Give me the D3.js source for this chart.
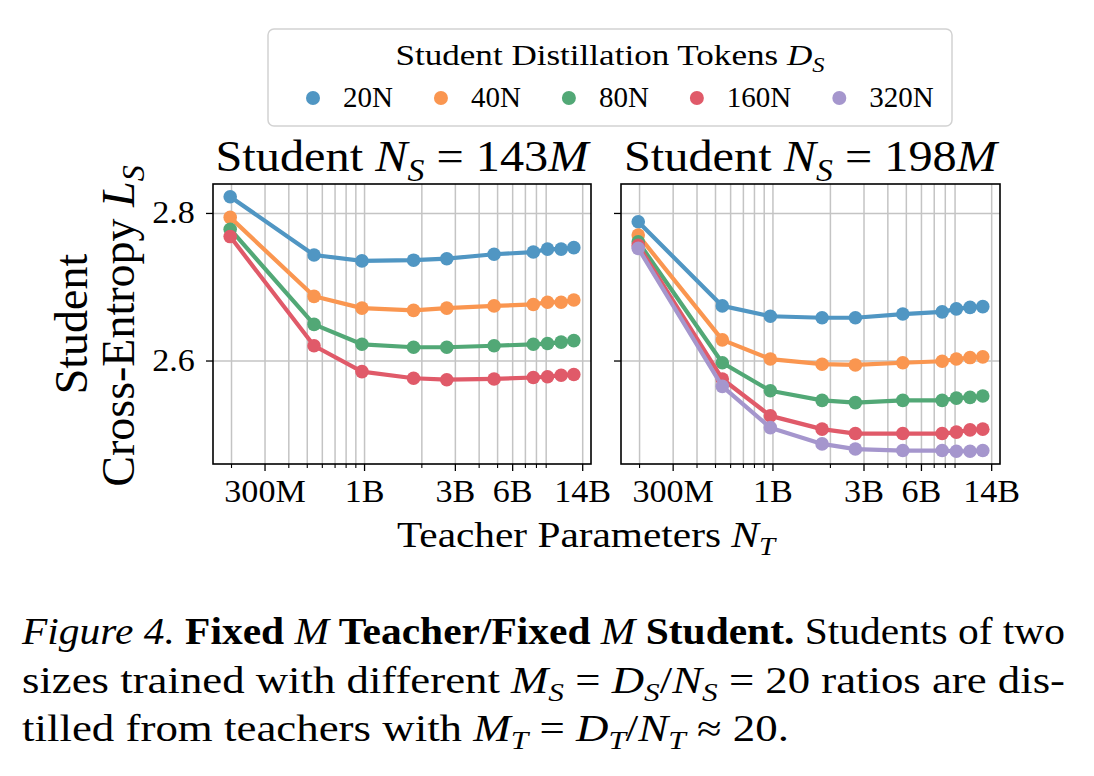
<!DOCTYPE html>
<html>
<head>
<meta charset="utf-8">
<script src="https://cdn.jsdelivr.net/npm/d3@7"></script>
<style>
  html, body { margin: 0; padding: 0; background: #fff; }
  svg { display: block; }
  text { font-family: "Liberation Serif", "Times New Roman", Times, serif; fill: #000; }
</style>
</head>
<body>
<svg id="chart" width="1094" height="776"></svg>
<script>
// ---------------- DATA ----------------
const teacherParams = [198e6, 546e6, 975e6, 1.82e9, 2.72e9, 4.82e9, 7.75e9, 9.2e9, 10.85e9, 12.65e9];
const seriesLabels = ["20N", "40N", "80N", "160N", "320N"];
const seriesColors = ["#5096c3", "#fa9650", "#52a876", "#e05a69", "#a596cd"];

// Student N_S = 143M
const s143_20N  = [2.822, 2.743, 2.735, 2.736, 2.738, 2.744, 2.747, 2.751, 2.751, 2.753];
const s143_40N  = [2.794, 2.687, 2.671, 2.668, 2.671, 2.674, 2.676, 2.679, 2.679, 2.682];
const s143_80N  = [2.778, 2.649, 2.622, 2.618, 2.618, 2.620, 2.622, 2.623, 2.625, 2.627];
const s143_160N = [2.768, 2.620, 2.585, 2.576, 2.574, 2.575, 2.577, 2.578, 2.580, 2.581];

// Student N_S = 198M
const s198_20N  = [2.788, 2.674, 2.660, 2.658, 2.658, 2.663, 2.666, 2.670, 2.672, 2.673];
const s198_40N  = [2.770, 2.628, 2.602, 2.595, 2.594, 2.597, 2.599, 2.602, 2.604, 2.605];
const s198_80N  = [2.761, 2.597, 2.559, 2.546, 2.543, 2.546, 2.546, 2.549, 2.550, 2.552];
const s198_160N = [2.756, 2.575, 2.525, 2.507, 2.501, 2.501, 2.501, 2.503, 2.506, 2.507];
const s198_320N = [2.752, 2.565, 2.509, 2.487, 2.480, 2.478, 2.478, 2.477, 2.477, 2.478];

const xMajorTicks = [3e8, 1e9, 3e9, 6e9, 1.4e10];
const xMajorLabels = ["300M", "1B", "3B", "6B", "14B"];
const xMinorTicks = [2e8, 4e8, 5e8, 6e8, 7e8, 8e8, 9e8, 2e9, 4e9, 5e9, 7e9, 8e9, 9e9];
const yTicks = [2.6, 2.8];

const panels = [
  { sizeLabel: "143", series: [s143_20N, s143_40N, s143_80N, s143_160N] },
  { sizeLabel: "198", series: [s198_20N, s198_40N, s198_80N, s198_160N, s198_320N] }
];

// ---------------- LAYOUT ----------------
const FF = '"Liberation Serif", "Times New Roman", Times, serif';
const svg = d3.select("#chart");
const plotTop = 184, plotBottom = 464;
const panelX = [[213, 591], [621, 1000]];
const SX = 1.1; // horizontal glyph stretch

function rich(g, x, y, parts, opts) {
  const fs = opts.size;
  const t = g.append("text").attr("x", x).attr("y", y)
    .attr("font-size", fs).attr("font-family", FF)
    .attr("text-anchor", opts.anchor || "start");
  if (opts.transform) t.attr("transform", opts.transform);
  let shifted = 0;
  parts.forEach(p => {
    const ts = t.append("tspan").text(p.t);
    if (p.i) ts.attr("font-style", "italic");
    if (p.b) ts.attr("font-weight", "bold");
    let dy = 0;
    if (p.sub) {
      ts.attr("font-size", fs * 0.7);
      const target = fs * 0.22;
      dy = target - shifted; shifted = target;
    } else if (shifted) {
      dy = -shifted; shifted = 0;
    }
    if (dy) ts.attr("dy", dy);
  });
  if (opts.len) t.attr("textLength", opts.len).attr("lengthAdjust", "spacingAndGlyphs");
  return t;
}

const allVals = panels.flatMap(p => p.series.flat());
const yMin = d3.min(allVals), yMax = d3.max(allVals);
const yPad = (yMax - yMin) * 0.05;
const y = d3.scaleLinear().domain([yMin - yPad, yMax + yPad]).range([plotBottom, plotTop]);

const lx0 = Math.log10(d3.min(teacherParams)), lx1 = Math.log10(d3.max(teacherParams));
const xPad = (lx1 - lx0) * 0.05;
const xDomain = [Math.pow(10, lx0 - xPad), Math.pow(10, lx1 + xPad)];

panels.forEach((panel, pi) => {
  const [x0, x1] = panelX[pi];
  const x = d3.scaleLog().domain(xDomain).range([x0, x1]);
  const g = svg.append("g");

  const gridX = g.append("g").attr("transform", `translate(0,${plotBottom})`)
    .call(d3.axisBottom(x).tickValues(xMajorTicks.concat(xMinorTicks)).tickSize(-(plotBottom - plotTop)).tickFormat(""));
  gridX.select(".domain").remove();
  gridX.selectAll("line").attr("stroke", "#c4c4c4").attr("stroke-width", 1.5);
  const gridY = g.append("g").attr("transform", `translate(${x0},0)`)
    .call(d3.axisLeft(y).tickValues(yTicks).tickSize(-(x1 - x0)).tickFormat(""));
  gridY.select(".domain").remove();
  gridY.selectAll("line").attr("stroke", "#c4c4c4").attr("stroke-width", 1.5);

  const line = d3.line().x((d, i) => x(teacherParams[i])).y(d => y(d));
  panel.series.forEach((vals, si) => {
    const sg = g.append("g");
    sg.append("path").datum(vals).attr("d", line)
      .attr("fill", "none").attr("stroke", seriesColors[si]).attr("stroke-width", 4.2)
      .attr("stroke-linejoin", "round");
    sg.selectAll("circle").data(vals).join("circle")
      .attr("cx", (d, i) => x(teacherParams[i])).attr("cy", d => y(d))
      .attr("r", 6.8).attr("fill", seriesColors[si]);
  });

  g.append("rect").attr("x", x0).attr("y", plotTop).attr("width", x1 - x0).attr("height", plotBottom - plotTop)
    .attr("fill", "none").attr("stroke", "#000").attr("stroke-width", 1.6);

  const minAx = g.append("g").attr("transform", `translate(0,${plotBottom})`)
    .call(d3.axisBottom(x).tickValues(xMinorTicks).tickSize(4).tickFormat(""));
  minAx.select(".domain").remove();
  minAx.selectAll("line").attr("stroke", "#000").attr("stroke-width", 1.1);

  const majAx = g.append("g").attr("transform", `translate(0,${plotBottom})`)
    .call(d3.axisBottom(x).tickValues(xMajorTicks).tickSize(7).tickPadding(8.5)
      .tickFormat((d, i) => xMajorLabels[i]));
  majAx.attr("font-family", FF);
  majAx.select(".domain").remove();
  majAx.selectAll("line").attr("stroke", "#000").attr("stroke-width", 1.3);
  majAx.selectAll("text").attr("font-size", 31).attr("font-family", FF)
    .attr("fill", "#000").attr("transform", `scale(${SX},1)`);

  const yAx = g.append("g").attr("transform", `translate(${x0},0)`)
    .call(d3.axisLeft(y).tickValues(yTicks).tickSize(7).tickPadding(9.5)
      .tickFormat(pi === 0 ? d3.format(".1f") : () => ""));
  yAx.attr("font-family", FF);
  yAx.select(".domain").remove();
  yAx.selectAll("line").attr("stroke", "#000").attr("stroke-width", 1.3);
  yAx.selectAll("text").attr("font-size", 31).attr("font-family", FF)
    .attr("fill", "#000").attr("transform", `scale(${SX},1)`);

  rich(svg, (x0 + x1) / 2, 171, [
    { t: "Student " }, { t: "N", i: true }, { t: "S", i: true, sub: true },
    { t: " = " + panel.sizeLabel }, { t: "M", i: true }
  ], { size: 44, anchor: "middle", len: 373 });
});

rich(svg, 586, 547, [{ t: "Teacher Parameters " }, { t: "N", i: true }, { t: "T", i: true, sub: true }],
  { size: 35, anchor: "middle", len: 378 });
rich(svg, 0, 0, [{ t: "Student" }], { size: 46, anchor: "middle", transform: "translate(87,324) rotate(-90)" });
rich(svg, 0, 0, [{ t: "Cross-Entropy " }, { t: "L", i: true }, { t: "S", i: true, sub: true }],
  { size: 46, anchor: "middle", transform: "translate(134,326) rotate(-90)" });

const lg = svg.append("g");
lg.append("rect").attr("x", 268).attr("y", 29).attr("width", 684).attr("height", 97).attr("rx", 6)
  .attr("fill", "#fff").attr("stroke", "#d2d2d2").attr("stroke-width", 1.5);
rich(lg, 610, 65, [{ t: "Student Distillation Tokens " }, { t: "D", i: true }, { t: "S", i: true, sub: true }],
  { size: 30, anchor: "middle", len: 429 });
let lxPos = 313;
seriesLabels.forEach((lab, i) => {
  lg.append("circle").attr("cx", lxPos).attr("cy", 98).attr("r", 7).attr("fill", seriesColors[i]);
  const t = lg.append("text").attr("x", lxPos + 30).attr("y", 107).attr("font-size", 29)
    .attr("font-family", FF).text(lab);
  const w = t.node().getComputedTextLength();
  lxPos = lxPos + 30 + w + 48;
});

const cap = svg.append("g");
rich(cap, 22, 644, [
  { t: "Figure 4.", i: true }, { t: " " }, { t: "Fixed ", b: true }, { t: "M", i: true },
  { t: " Teacher/Fixed ", b: true }, { t: "M", i: true }, { t: " Student.", b: true },
  { t: " Students of two" }
], { size: 37, len: 1043 });
rich(cap, 22, 693, [
  { t: "sizes trained with different " }, { t: "M", i: true }, { t: "S", i: true, sub: true },
  { t: " = " }, { t: "D", i: true }, { t: "S", i: true, sub: true }, { t: "/" },
  { t: "N", i: true }, { t: "S", i: true, sub: true }, { t: " = 20 ratios are dis-" }
], { size: 37, len: 1043 });
rich(cap, 22, 741, [
  { t: "tilled from teachers with " }, { t: "M", i: true }, { t: "T", i: true, sub: true },
  { t: " = " }, { t: "D", i: true }, { t: "T", i: true, sub: true }, { t: "/" },
  { t: "N", i: true }, { t: "T", i: true, sub: true }, { t: " ≈ 20." }
], { size: 37, len: 767 });
</script>
</body>
</html>
